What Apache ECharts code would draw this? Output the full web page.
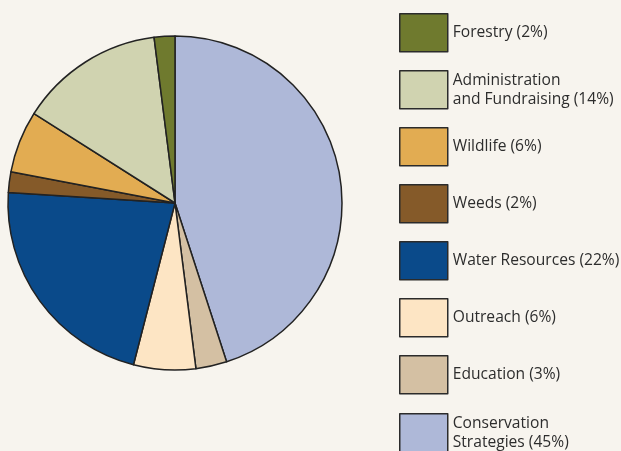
<!DOCTYPE html>
<html>
<head>
<meta charset="utf-8">
<script src="https://cdn.jsdelivr.net/npm/echarts@6/dist/echarts.min.js"></script>
<style>html,body{margin:0;padding:0;background:#f7f4ee;}#c{width:621px;height:451px;}</style>
</head>
<body>
<div id="c"></div>
<script>
// Slices, clockwise from 12 o'clock
const names = ["Conservation\nStrategies (45%)", "Education (3%)", "Outreach (6%)", "Water Resources (22%)", "Weeds (2%)", "Wildlife (6%)", "Administration\nand Fundraising (14%)", "Forestry (2%)"];
const values = [45, 3, 6, 22, 2, 6, 14, 2];
const colors = ["#aeb8d8", "#d4c0a3", "#fde5c4", "#0a4a8a", "#855a29", "#e2ac52", "#d0d3b0", "#6f7a2e"];
// Legend order, top to bottom
const legendOrder = ["Forestry (2%)", "Administration\nand Fundraising (14%)", "Wildlife (6%)", "Weeds (2%)", "Water Resources (22%)", "Outreach (6%)", "Education (3%)", "Conservation\nStrategies (45%)"];

const legendBase = {
  orient: 'vertical',
  left: 399,
  padding: 0,
  itemWidth: 48,
  itemHeight: 38,
  itemGap: 17.5,
  icon: 'rect',
  selectedMode: false,
  itemStyle: {borderColor: '#2b2b2b', borderWidth: 1.5},
  textStyle: {fontFamily: 'Open Sans', fontSize: 15.6, color: '#2d2d2d', lineHeight: 19, padding: [0, 0, 0, 0]}
};

const chart = echarts.init(document.getElementById('c'), null, {renderer: 'canvas'});
chart.setOption({
  backgroundColor: '#f7f4ee',
  animation: false,
  legend: [
    Object.assign({}, legendBase, {top: 13, data: legendOrder.slice(0, 7)}),
    Object.assign({}, legendBase, {top: 413, data: legendOrder.slice(7)})
  ],
  series: [{
    type: 'pie',
    center: [175, 203],
    radius: 167,
    startAngle: 90,
    clockwise: true,
    label: {show: false},
    labelLine: {show: false},
    emphasis: {disabled: true},
    itemStyle: {borderColor: '#222', borderWidth: 1.5},
    data: names.map((n, i) => ({name: n, value: values[i], itemStyle: {color: colors[i]}}))
  }]
});
</script>
</body>
</html>
